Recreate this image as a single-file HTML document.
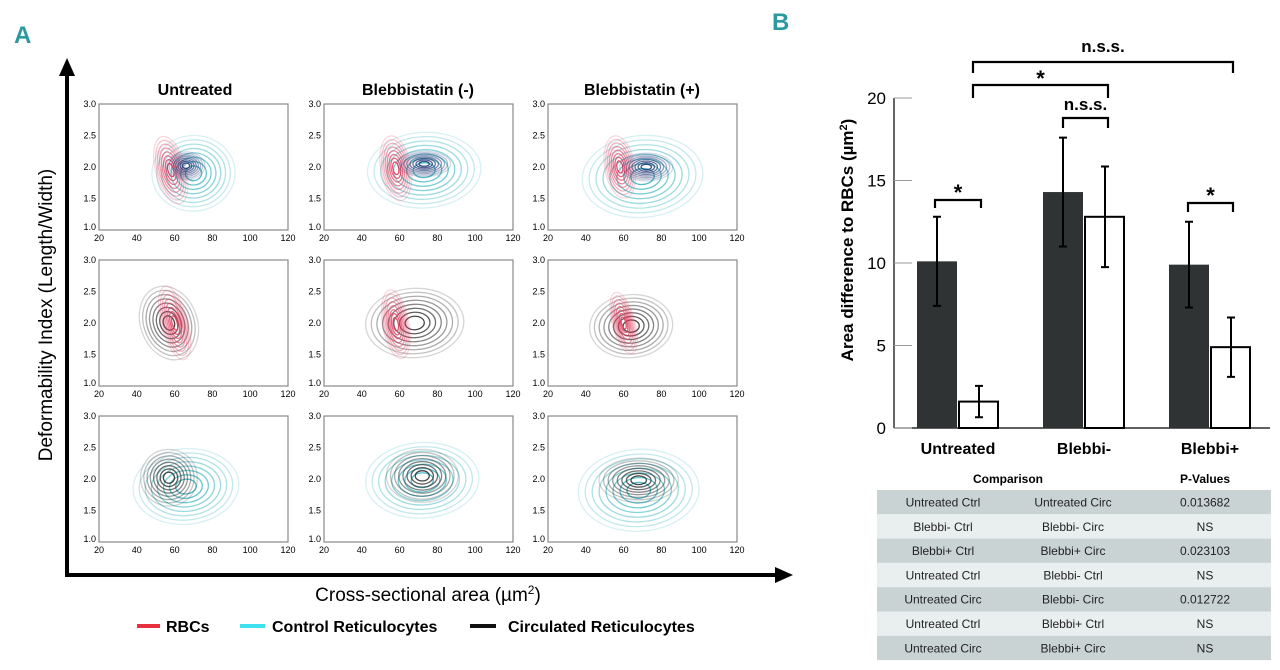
<!DOCTYPE html>
<html><head><meta charset="utf-8"><style>
body{margin:0;width:1280px;height:670px;background:#fff;overflow:hidden;font-family:"Liberation Sans",Arial,sans-serif}
svg{position:absolute;left:0;top:0}
</style></head><body>
<svg id="s" width="1280" height="670" viewBox="0 0 1280 670" xmlns="http://www.w3.org/2000/svg" font-family="Liberation Sans, Arial, sans-serif">
<text x="14" y="43" font-size="24" font-weight="bold" fill="#2a9aa0">A</text>
<text x="772" y="30" font-size="24" font-weight="bold" fill="#2a9aa0">B</text>
<g id="pa">
<line x1="67" y1="575" x2="67" y2="72" stroke="#000" stroke-width="4"/>
<polygon points="67,58 59,76 75,76" fill="#000"/>
<line x1="65" y1="575" x2="778" y2="575" stroke="#000" stroke-width="4"/>
<polygon points="793,575 775,567 775,583" fill="#000"/>
<text transform="translate(52,315) rotate(-90)" text-anchor="middle" font-size="19">Deformability Index (Length/Width)</text>
<text x="428" y="601" text-anchor="middle" font-size="19">Cross-sectional area (µm<tspan font-size="12" dy="-7">2</tspan><tspan dy="7">)</tspan></text>
<text x="195" y="95" text-anchor="middle" font-size="16" font-weight="bold">Untreated</text>
<text x="418" y="95" text-anchor="middle" font-size="16" font-weight="bold">Blebbistatin (-)</text>
<text x="642" y="95" text-anchor="middle" font-size="16" font-weight="bold">Blebbistatin (+)</text>
<g>
<line x1="137" y1="626" x2="160" y2="626" stroke="#e8303e" stroke-width="4"/>
<text x="166" y="632" font-size="16" font-weight="bold">RBCs</text>
<line x1="240" y1="626" x2="265" y2="626" stroke="#3fe0ef" stroke-width="4"/>
<text x="272" y="632" font-size="16" font-weight="bold">Control Reticulocytes</text>
<line x1="470" y1="626" x2="496" y2="626" stroke="#111" stroke-width="4"/>
<text x="508" y="632" font-size="16" font-weight="bold">Circulated Reticulocytes</text>
</g>
</g>
<g id="pb"></g>
<g id="tb"></g>
</svg>
<script>
var NS="http://www.w3.org/2000/svg";
function mk(tag,attrs,parent,txt){var e=document.createElementNS(NS,tag);for(var k in attrs)e.setAttribute(k,attrs[k]);if(txt!==undefined)e.textContent=txt;parent.appendChild(e);return e;}
// ---------- Panel A contour plots ----------
var colLefts=[99,324,548], rowTops=[104,260,416], boxW=189, boxH=126;
var xTicks=[20,40,60,80,100,120], yTicks=[1.0,1.5,2.0,2.5,3.0];
var colors={red:"#e23a5c",cyan:"#38b6c2",navy:"#253a78",gray:"#333"};
// blobs per panel: [colorKey, cx(area), cy(DI), rx(area), ry(DI), rotation deg]
var blobsR1C1=[["cyan",70,1.9,22,0.6,-5],["red",58,1.95,8,0.55,-15],["navy",66,2.02,10,0.22,0]];
var blobsR1C2=[["cyan",73,1.95,30,0.6,-3],["red",58,1.98,8,0.52,-10],["navy",73,2.05,14,0.2,0]];
var blobsR1C3=[["cyan",70,1.85,32,0.65,-5],["red",58,2.0,8,0.5,-10],["navy",72,2.0,14,0.22,0]];
var blobsR2C1=[["gray",57,2.0,15,0.6,-20],["red",60,2.0,7,0.6,-15]];
var blobsR2C2=[["gray",68,2.0,26,0.55,-3],["red",58,1.98,7,0.55,-10]];
var blobsR2C3=[["gray",64,1.95,22,0.5,-5],["red",60,2.0,6,0.5,-15]];
var blobsR3C1=[["cyan",66,1.88,28,0.6,-5],["gray",57,2.02,15,0.45,-10]];
var blobsR3C2=[["cyan",72,1.98,30,0.6,-3],["gray",72,2.05,19,0.42,0]];
var blobsR3C3=[["cyan",68,1.82,32,0.65,-3],["gray",68,1.98,21,0.35,0]];
var panels=[[blobsR1C1,blobsR1C2,blobsR1C3],[blobsR2C1,blobsR2C2,blobsR2C3],[blobsR3C1,blobsR3C2,blobsR3C3]];
var pa=document.getElementById('pa');
for(var r=0;r<3;r++)for(var c=0;c<3;c++){
  var L=colLefts[c],T=rowTops[r];
  var g=mk('g',{},pa);
  
  
  (function(L,T,g,blobs){
    var sx=function(v){return L+(v-20)/100*boxW;};
    var sy=function(v){return T+boxH-(v-1)/2*boxH;};
    blobs.forEach(function(b){
      var n=8;
      for(var i=0;i<n;i++){
        var k=1-i*0.115;
        var e=mk('ellipse',{cx:sx(b[1]),cy:sy(b[2]),rx:b[3]*k/100*boxW,ry:b[4]*k/2*boxH,fill:'none',stroke:colors[b[0]],'stroke-width':1.3,'stroke-opacity':(0.2+i*0.1).toFixed(2),transform:'rotate('+b[5]+' '+sx(b[1])+' '+sy(b[2])+')'},g);
        
        
      }
    });
    var box=mk('rect',{x:L,y:T,width:boxW,height:boxH,fill:'none',stroke:'#888','stroke-width':1.2},g);
    
    
    xTicks.forEach(function(t){var tx=mk('text',{x:sx(t),y:T+boxH+11,'text-anchor':'middle','font-size':9},g,String(t));
      
      });
    yTicks.forEach(function(t){var ty=mk('text',{x:L-3,y:sy(t)+(t===1?0:3),'text-anchor':'end','font-size':9},g,t.toFixed(1));
      
      });
  })(L,T,g,panels[r][c]);
}
// ---------- Panel B bar chart ----------
var categories=["Untreated","Blebbi-","Blebbi+"];
var ctrlValues=[10.1,14.3,9.9];
var ctrlErrors=[2.7,3.3,2.6];
var circValues=[1.6,12.8,4.9];
var circErrors=[0.95,3.05,1.8];
var yTickVals=[0,5,10,15,20];
var pb=document.getElementById('pb');
var ax0=894,ax1=1270,y0=428,pxPerUnit=16.5;
function Y(v){return y0-v*pxPerUnit;}
function gx(i){return 958+i*126;}
var bw=40;
var yl=mk('line',{x1:ax0,y1:Y(20),x2:ax0,y2:y0,stroke:'#000','stroke-width':1.2},pb);


var xl=mk('line',{x1:ax0,y1:y0,x2:ax1,y2:y0,stroke:'#000','stroke-width':1.2},pb);


yTickVals.forEach(function(t){
  var tk=mk('line',{x1:ax0,y1:Y(t),x2:ax0+18,y2:Y(t),stroke:'#999','stroke-width':1},pb);
  
  
  var tl=mk('text',{x:ax0-8,y:Y(t)+6,'text-anchor':'end','font-size':17},pb,String(t));
  
  
});
var yt=mk('text',{transform:'translate(853,240) rotate(-90)','text-anchor':'middle','font-size':17,'font-weight':'bold'},pb);


yt.innerHTML='Area difference to RBCs (µm<tspan font-size="11" dy="-6">2</tspan><tspan dy="6">)</tspan>';
function errbar(x,v,e){
  var l=mk('path',{d:'M'+x+' '+Y(v-e)+'V'+Y(v+e)+'M'+(x-4)+' '+Y(v-e)+'H'+(x+4)+'M'+(x-4)+' '+Y(v+e)+'H'+(x+4),stroke:'#000','stroke-width':2,fill:'none'},pb);
  
  
}
categories.forEach(function(cat,i){
  var cx=gx(i);
  var b1=mk('rect',{x:cx-bw-1,y:Y(ctrlValues[i]),width:bw,height:ctrlValues[i]*pxPerUnit,fill:'#2f3333'},pb);
  
  
  var b2=mk('rect',{x:cx+1,y:Y(circValues[i]),width:bw-1,height:circValues[i]*pxPerUnit,fill:'#fff',stroke:'#000','stroke-width':2},pb);
  
  
  errbar(cx-bw/2-1,ctrlValues[i],ctrlErrors[i]);
  errbar(cx+bw/2+1,circValues[i],circErrors[i]);
  var cl=mk('text',{x:cx,y:454,'text-anchor':'middle','font-size':16,'font-weight':'bold'},pb,cat);
  
  
});
// significance brackets: [x1,x2,yTop,yLeg,label,labelY]
var brackets=[[973,1233,62,73,"n.s.s.",52],[973,1108,85,98,"*",86],[1063,1108,118,128,"n.s.s.",110],[935,981,200,208,"*",200],[1188,1233,203,212,"*",203]];
brackets.forEach(function(b){
  var p=mk('path',{d:'M'+b[0]+' '+b[3]+'V'+b[2]+'H'+b[1]+'V'+b[3],stroke:'#000','stroke-width':2.2,fill:'none'},pb);
  
  
  var t=mk('text',{x:(b[0]+b[1])/2,y:b[5],'text-anchor':'middle','font-size':b[4]==='*'?22:17,'font-weight':'bold'},pb,b[4]);
  
  
});
// ---------- Table ----------
var rows=[["Untreated Ctrl","Untreated Circ","0.013682"],["Blebbi- Ctrl","Blebbi- Circ","NS"],["Blebbi+ Ctrl","Blebbi+ Circ","0.023103"],["Untreated Ctrl","Blebbi- Ctrl","NS"],["Untreated Circ","Blebbi- Circ","0.012722"],["Untreated Ctrl","Blebbi+ Ctrl","NS"],["Untreated Circ","Blebbi+ Circ","NS"]];
var tb=document.getElementById('tb');
var h1=mk('text',{x:1008,y:483,'text-anchor':'middle','font-size':12,'font-weight':'bold'},tb,'Comparison');


var h2=mk('text',{x:1205,y:483,'text-anchor':'middle','font-size':12,'font-weight':'bold'},tb,'P-Values');


var colX=[943,1073,1205];
rows.forEach(function(r,i){
  var top=490+i*24.3;
  var bg=mk('rect',{x:877,y:top,width:394,height:24.3,fill:i%2?'#e9eeee':'#cad3d4'},tb);
  
  
  r.forEach(function(v,j){
    var t=mk('text',{x:colX[j],y:top+16.5,'text-anchor':'middle','font-size':12,fill:'#222'},tb,v);
    
    
  });
});
</script>
</body></html>
